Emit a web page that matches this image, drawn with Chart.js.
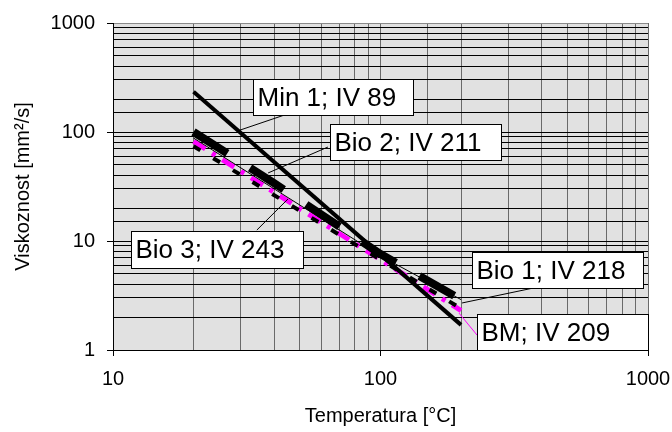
<!DOCTYPE html>
<html>
<head>
<meta charset="utf-8">
<script src="https://cdn.jsdelivr.net/npm/chart.js@4.4.1/dist/chart.umd.min.js"></script>
<style>
    html, body { margin: 0; padding: 0; background: #fff; }
</style>
</head>
<body>
<canvas id="viscChart" width="672" height="432"></canvas>
<script>
const fontFamily = "'Liberation Sans', Arial, sans-serif";

// series (T in °C, viscosity in mm2/s)
const seriesNames = ['Min 1; IV 89', 'Bio 2; IV 211', 'Bio 1; IV 218', 'Bio 3; IV 243', 'BM; IV 209'];
const min1Temp = [20, 200];
const min1Visc = [234, 1.7];
const bio2Temp = [20, 40, 100, 200];
const bio2Visc = [100, 34, 7.6, 2.9];
const bio1Temp = [20, 100, 200];
const bio1Visc = [88, 7.3, 2.9];
const bio3Temp = [20, 200];
const bio3Visc = [74, 2.4];
const bmTemp = [20, 200];
const bmVisc = [82, 2.3];

const xTickLabels = [10, 100, 1000];
const yTickLabels = [1, 10, 100, 1000];

// label boxes: corners and leader line in data coords
const labelBoxes = [
    {box: [[33.4, 306], [132, 143]], leader: [[45.9, 149], [29.8, 104]], color: '#000'},
    {box: [[64.7, 118], [282, 55.4]], leader: [[63.6, 72.8], [38, 42.1]], color: '#000'},
    {box: [[220, 7.9], [957, 3.71]], leader: [[404, 3.86], [201.8, 2.7]], color: '#000'},
    {box: [[11.7, 12.4], [51.3, 5.65]], leader: [[34.5, 12.6], [45.1, 24.3]], color: '#000'},
    {box: [[229.7, 2.14], [1000, 1.0]], leader: [[229.6, 1.37], [196.5, 2.18]], color: '#ff00ff'}
];

function toPoints(xs, ys) {
    return xs.map((x, i) => ({x: x, y: ys[i]}));
}

function isDecade(v) {
    const l = Math.log10(v);
    return Math.abs(l - Math.round(l)) < 1e-9;
}

const plotBackground = {
    id: 'plotBackground',
    beforeDraw(chart) {
        const {ctx, chartArea} = chart;
        ctx.save();
        ctx.fillStyle = '#e1e1e1';
        ctx.fillRect(chartArea.left, chartArea.top, chartArea.right - chartArea.left, chartArea.bottom - chartArea.top);
        ctx.restore();
    }
};

const labelPlugin = {
    id: 'labelPlugin',
    afterDatasetsDraw(chart) {
        const {ctx, scales} = chart;
        const px = (p) => [scales.x.getPixelForValue(p[0]), scales.y.getPixelForValue(p[1])];
        ctx.save();
        labelBoxes.forEach((lb, i) => {
            const a = px(lb.leader[0]);
            const b = px(lb.leader[1]);
            ctx.strokeStyle = lb.color;
            ctx.lineWidth = 1;
            ctx.beginPath();
            ctx.moveTo(a[0], a[1]);
            ctx.lineTo(b[0], b[1]);
            ctx.stroke();

            const tl = px(lb.box[0]);
            const br = px(lb.box[1]);
            const x0 = Math.round(tl[0]) + 0.5, y0 = Math.round(tl[1]) + 0.5;
            const w = Math.round(br[0] - tl[0]), h = Math.round(br[1] - tl[1]);
            ctx.fillStyle = '#fff';
            ctx.fillRect(x0, y0, w, h);
            ctx.strokeStyle = '#000';
            ctx.strokeRect(x0, y0, w, h);

            ctx.fillStyle = '#000';
            ctx.font = '26px ' + fontFamily;
            ctx.textBaseline = 'alphabetic';
            ctx.textAlign = 'left';
            ctx.fillText(seriesNames[i], x0 + 4, y0 + 26);
        });
        ctx.restore();
    }
};

const chart = new Chart(document.getElementById('viscChart'), {
    type: 'line',
    data: {
        datasets: [
            {
                label: seriesNames[0],
                data: toPoints(min1Temp, min1Visc),
                borderColor: '#000',
                borderWidth: 4,
                borderCapStyle: 'butt'
            },
            {
                label: seriesNames[1],
                data: toPoints(bio2Temp, bio2Visc),
                borderColor: '#000',
                borderWidth: 8,
                borderDash: [40, 27],
                borderCapStyle: 'butt'
            },
            {
                label: seriesNames[2],
                data: toPoints(bio1Temp, bio1Visc),
                borderColor: '#000',
                borderWidth: 1
            },
            {
                label: seriesNames[3],
                data: toPoints(bio3Temp, bio3Visc),
                borderColor: '#000',
                borderWidth: 4,
                borderDash: [8, 15],
                borderCapStyle: 'butt'
            },
            {
                label: seriesNames[4],
                data: toPoints(bmTemp, bmVisc),
                borderColor: '#ff00ff',
                borderWidth: 5,
                borderDash: [14, 8, 4, 8],
                borderCapStyle: 'butt'
            }
        ]
    },
    options: {
        responsive: false,
        animation: false,
        devicePixelRatio: 1,
        layout: {
            padding: {top: 23, right: 24, left: 0, bottom: 0}
        },
        elements: {
            point: {radius: 0},
            line: {tension: 0, fill: false}
        },
        plugins: {
            legend: {display: false},
            tooltip: {enabled: false}
        },
        scales: {
            x: {
                type: 'logarithmic',
                min: 10,
                max: 1000,
                afterFit: (scale) => {
                    scale.height = 82;
                    scale.paddingLeft = 0;
                    scale.paddingRight = 0;
                },
                border: {color: '#000', width: 1},
                grid: {
                    color: '#6a6a6a',
                    lineWidth: 1,
                    tickLength: 6,
                    tickColor: (ctx) => isDecade(ctx.tick.value) ? '#000' : 'rgba(0,0,0,0)'
                },
                ticks: {
                    autoSkip: false,
                    maxRotation: 0,
                    padding: 11,
                    color: '#000',
                    font: {family: fontFamily, size: 20},
                    callback: (value) => xTickLabels.includes(value) ? String(value) : ''
                },
                title: {
                    display: true,
                    text: 'Temperatura [°C]',
                    color: '#000',
                    font: {family: fontFamily, size: 20},
                    padding: {top: 0, bottom: 4}
                }
            },
            y: {
                type: 'logarithmic',
                min: 1,
                max: 1000,
                afterFit: (scale) => {
                    scale.width = 113;
                    scale.paddingTop = 0;
                    scale.paddingBottom = 0;
                },
                border: {color: '#000', width: 1},
                grid: {
                    color: (ctx) => ctx.tick.value === 1000 ? '#8a8a8a' : '#000',
                    lineWidth: 1,
                    tickLength: 6,
                    tickColor: (ctx) => isDecade(ctx.tick.value) ? '#000' : 'rgba(0,0,0,0)'
                },
                ticks: {
                    autoSkip: false,
                    padding: 12,
                    color: '#000',
                    font: {family: fontFamily, size: 20},
                    callback: (value) => yTickLabels.includes(value) ? String(value) : ''
                },
                title: {
                    display: true,
                    text: 'Viskoznost [mm²/s]',
                    color: '#000',
                    font: {family: fontFamily, size: 20},
                    padding: {top: 11, bottom: 0}
                }
            }
        }
    },
    plugins: [plotBackground, labelPlugin]
});
</script>
</body>
</html>
